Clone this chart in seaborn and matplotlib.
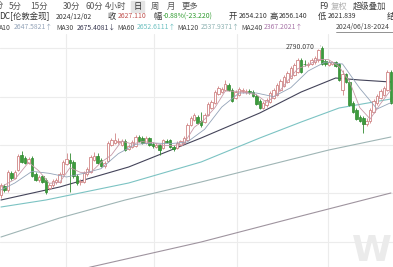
import numpy as np
import matplotlib
matplotlib.use("Agg")
import matplotlib.pyplot as plt
import seaborn as sns

# ---------------- data ----------------
opens = [2343,2370,2358,2409,2394,2418,2463,2454,2439,2454,
         2406,2388,2400,2388,2364,2373,2382,2382,2406,2436,
         2448,2442,2400,2382,2382,2406,2412,2448,2460,2448,
         2430,2445,2493,2499,2502,2493,2505,2481,2487,2490,
         2517,2514,2499,2514,2496,2487,2493,2484,2505,2508,
         2487,2484,2493,2499,2508,2553,2568,2577,2565,2562,
         2583,2604,2619,2646,2652,2658,2673,2658,2634,2643,
         2655,2652,2655,2652,2640,2625,2604,2613,2622,2634,
         2643,2658,2670,2682,2694,2703,2712,2748,2737,2733,
         2736,2742,2748,2784,2745,2733,2736,2742,2736,2658,
         2706,2682,2619,2598,2577,2574,2556,2565,2592,2619,
         2634,2643,2658,2712]
closes = [2373,2358,2412,2394,2412,2460,2442,2439,2451,2400,
          2388,2397,2382,2352,2373,2385,2388,2406,2442,2451,
          2439,2400,2379,2385,2409,2421,2457,2460,2439,2430,
          2439,2499,2508,2508,2505,2505,2478,2490,2502,2517,
          2505,2499,2514,2493,2490,2493,2478,2508,2502,2487,
          2481,2499,2505,2514,2553,2574,2583,2559,2553,2583,
          2616,2622,2652,2664,2661,2676,2658,2625,2652,2661,
          2658,2655,2652,2640,2616,2604,2619,2628,2649,2658,
          2673,2685,2697,2709,2724,2733,2748,2712,2735,2736,
          2748,2754,2778,2736,2736,2742,2742,2730,2688,2706,
          2682,2613,2592,2571,2565,2556,2565,2598,2625,2640,
          2655,2664,2712,2619]
highs = [2379,2376,2418,2415,2418,2466,2475,2460,2457,2460,
         2412,2403,2403,2394,2379,2391,2394,2412,2448,2469,
         2469,2448,2406,2391,2415,2427,2463,2472,2469,2454,
         2445,2505,2514,2529,2514,2511,2511,2496,2508,2523,
         2523,2520,2520,2517,2502,2499,2496,2511,2511,2511,
         2493,2505,2508,2520,2559,2580,2589,2583,2592,2589,
         2622,2628,2658,2670,2667,2688,2679,2664,2658,2667,
         2664,2661,2661,2658,2646,2631,2625,2634,2655,2664,
         2679,2691,2703,2715,2730,2739,2754,2754,2748,2742,
         2754,2760,2781,2790.07,2751,2748,2745,2745,2739,2718,
         2709,2688,2625,2604,2583,2580,2574,2604,2631,2646,
         2661,2670,2718,2718]
lows = [2334,2352,2352,2388,2391,2415,2439,2436,2436,2397,
        2385,2382,2379,2346,2358,2367,2376,2379,2403,2433,
        2352,2394,2373,2373,2379,2400,2409,2445,2436,2427,
        2424,2442,2490,2496,2496,2490,2475,2478,2484,2487,
        2502,2496,2496,2490,2484,2484,2463,2481,2499,2484,
        2475,2481,2490,2496,2505,2550,2565,2556,2547,2559,
        2580,2601,2616,2643,2649,2655,2655,2622,2631,2640,
        2649,2646,2646,2637,2613,2601,2601,2607,2619,2631,
        2640,2655,2667,2679,2691,2700,2709,2709,2730,2727,
        2733,2736,2742,2733,2730,2730,2733,2727,2685,2643,
        2679,2610,2589,2568,2562,2529,2550,2559,2589,2613,
        2631,2640,2655,2616]

ma5_i = [0,4,8,11,14,17,20,23,26,29,32,35,38,41,44,47,50,53,56,59,62,65,68,71,74,77,80,83,86,89,92,95,98,101,104,107,110,113]
ma5_v = [2367,2390,2441,2415,2378,2381,2425,2411,2410,2441,2463,2505,2496,2503,2500,2492,2491,2497,2546,2570,2605,2655,2654,2650,2644,2621,2645,2684,2722,2733,2750,2749,2728,2684,2605,2571,2617,2658]
ma10_i = [0,4,9,14,19,24,29,34,39,44,49,54,59,64,69,74,79,84,89,94,99,104,109,113]
ma10_v = [2358,2379,2414,2408,2397,2408,2422,2467,2495,2499,2497,2502,2540,2607,2649,2649,2638,2665,2715,2742,2736,2663,2601,2620]
ma30_i = [0,17,37,58,75,87,97,104,113]
ma30_v = [2328,2367,2427,2514,2589,2652,2694,2688,2682]
ma60_i = [0,13,37,58,75,87,98,113]
ma60_v = [2307,2328,2379,2442,2514,2562,2604,2631]
ma120_i = [0,17,36,58,95,113]
ma120_v = [2217,2274,2328,2382,2478,2517]
ma240_i = [17,26,58,87,113]
ma240_v = [2103,2127,2202,2280,2349]

grid_x = [18.8, 44.3, 68.4, 94.8]
grid_y = [2784, 2637, 2493, 2349, 2202]

peak_idx, peak_val, peak_label = 93, 2790.07, "2790.070"

period_labels = ["分", "5分", "15分", "30分", "60分", "4小时", "日", "周", "月", "更多"]
header_quote = ["DC[伦敦金现]", "2024/12/02", "收", "2627.110", "幅", "-0.88%(-23.220)",
                "开", "2654.210", "高", "2656.140", "低", "2621.839", "结"]
ma_labels = ["A10", "MA30", "MA60", "MA120", "MA240"]
ma_values = ["2647.5821↑", "2675.4081↓", "2652.6111↑", "2537.9371↑", "2367.2021↑"]
range_label = "2024/06/18-2024"

# ---------------- style ----------------
sns.set_theme(style="white")
plt.rcParams["font.family"] = ["Noto Sans CJK SC", "DejaVu Sans"]

W, H = 393, 267
fig = plt.figure(figsize=(W / 100, H / 100), dpi=100)
fig.patch.set_facecolor("white")
ax = fig.add_axes([0, 0, 1, 233 / 267])
ax.set_facecolor("white")

UP_EDGE = "#d08585"
DOWN_FILL = "#3d9b3d"
DOWN_EDGE = "#2f8a2f"
C_MA5 = "#c79aa8"
C_MA10 = "#93a3b8"
C_MA30 = "#44445a"
C_MA60 = "#7cc3c3"
C_MA120 = "#9fb5b5"
C_MA240 = "#9f949f"

o = np.array(opens, float)
c = np.array(closes, float)
h = np.array(highs, float)
l = np.array(lows, float)
idx = np.arange(len(o))
up = c >= o

ax.vlines(idx[up], l[up], h[up], colors=UP_EDGE, lw=0.6, zorder=3)
ax.vlines(idx[~up], l[~up], h[~up], colors=DOWN_EDGE, lw=0.6, zorder=3)
bw = 0.72
body_lo = np.minimum(o, c)
body_h = np.maximum(np.abs(c - o), 1.5)
ax.bar(idx[up], body_h[up], bottom=body_lo[up], width=bw, color="white",
       edgecolor=UP_EDGE, linewidth=0.6, zorder=4)
ax.bar(idx[~up], body_h[~up], bottom=body_lo[~up], width=bw, color=DOWN_FILL,
       edgecolor=DOWN_EDGE, linewidth=0.5, zorder=4)

for xi, yv, col, lw, z in [
    (ma240_i, ma240_v, C_MA240, 0.8, 2),
    (ma120_i, ma120_v, C_MA120, 0.8, 2),
    (ma60_i, ma60_v, C_MA60, 0.8, 2),
    (ma30_i, ma30_v, C_MA30, 0.8, 2),
    (ma10_i, ma10_v, C_MA10, 0.6, 5),
    (ma5_i, ma5_v, C_MA5, 0.6, 5),
]:
    sns.lineplot(x=xi, y=yv, ax=ax, color=col, lw=lw, zorder=z)

ax.set_xlim(-0.29, 113.62)
ax.set_ylim(2127, 2826)
ax.set_xticks(grid_x)
ax.set_yticks(grid_y)
ax.grid(True, color="#ececec", lw=0.8)
ax.set_axisbelow(True)
ax.tick_params(left=False, bottom=False, labelleft=False, labelbottom=False)
ax.set_xlabel("")
ax.set_ylabel("")
for s in ax.spines.values():
    s.set_visible(False)

ax.annotate(peak_label, xy=(peak_idx - 0.4, peak_val), xytext=(90.8, peak_val - 2),
            ha="right", va="center", fontsize=5, color="#444444",
            arrowprops=dict(arrowstyle="-", color="#666666", lw=0.5), zorder=6)

fig.text(352 / W, 1 - 251 / H, "Wi", fontsize=26, fontweight="bold",
         color="#ebebeb", ha="left", va="center", family="DejaVu Sans")

FS_LAB = 6.0
FS_NUM = 4.9
renderer = fig.canvas.get_renderer()

def row(items, y):
    """items: (x, text, color, is_number); keeps a small gap between texts."""
    prev_end = -99
    for x, s, col, num in items:
        x = max(x, prev_end + 1.5)
        t = fig.text(x / W, 1 - y / H, s, color=col,
                     fontsize=FS_NUM if num else FS_LAB, ha="left", va="center")
        bb = t.get_window_extent(renderer)
        prev_end = bb.x1

# row 1
fig.patches.append(matplotlib.patches.Rectangle((131 / W, 1 - 12 / H), 13 / W, 11 / H,
                   transform=fig.transFigure, color="#e4e4e4", zorder=0))
row1_x = [-5, 9, 30, 63, 86, 105, 134, 151, 167, 182]
row([(x, s, "#333333" if s == "日" else "#555555", False)
     for s, x in zip(period_labels, row1_x)], 6.5)
row([(319, "F9", "#444444", False), (331, "复权", "#b0b0b0", False),
     (353, "超级叠加", "#444444", False)], 6.5)

# row 2
row2_x = [-1, 56, 108, 117, 153, 162, 229, 238, 268, 277, 318, 327, 387]
row2_c = ["#333333", "#333333", "#333333", "#c0504d", "#333333", "#2e9b2e",
          "#333333", "#333333", "#333333", "#333333", "#333333", "#333333", "#333333"]
row2_num = [False, True, False, True, False, True, False, True, False, True, False, True, False]
row([(x, s, col, n) for s, x, col, n in zip(header_quote, row2_x, row2_c, row2_num)], 16.5)

# row 3
lab_x = [-1, 56, 116, 172, 228]
val_x = [14, 77, 137, 198, 252]
val_c = [C_MA10, "#3b3b52", "#6cc0c0", "#8fb3b3", "#a874a8"]
items = []
for lab, lx, val, vx, vc in zip(ma_labels, lab_x, ma_values, val_x, val_c):
    items.append((lx, lab, "#444444", True))
    items.append((vx, val, vc, True))
items.append((336, range_label, "#444444", True))
row(items, 27.5)
fig.add_artist(matplotlib.lines.Line2D([336 / W, 393 / W], [1 - 32 / H, 1 - 32 / H],
               color="#666666", lw=0.5, transform=fig.transFigure))

fig.savefig("out.png", dpi=100, facecolor="white")
